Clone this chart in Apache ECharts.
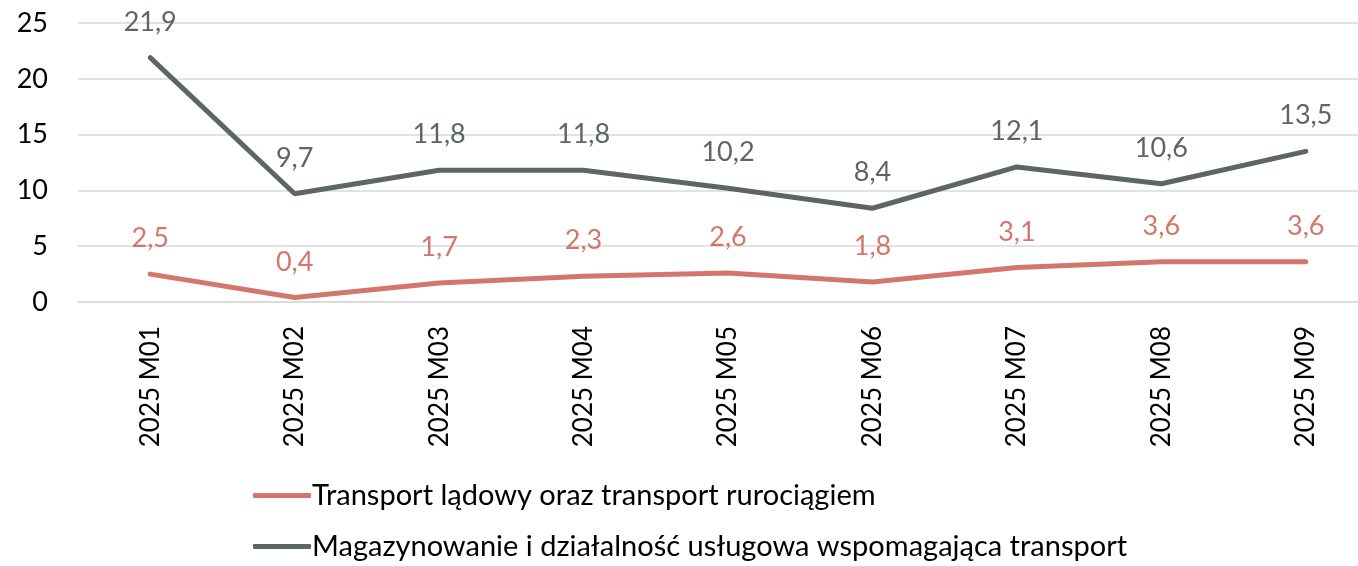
<!DOCTYPE html>
<html>
<head>
<meta charset="utf-8">
<script src="https://cdn.jsdelivr.net/npm/echarts@6/dist/echarts.min.js"></script>
<style>
  html, body { margin: 0; padding: 0; background: #fff; }
  #chart { width: 1358px; height: 566px; }
</style>
</head>
<body>
<div id="chart"></div>
<script>
// dane
var months = ["2025 M01", "2025 M02", "2025 M03", "2025 M04", "2025 M05", "2025 M06", "2025 M07", "2025 M08", "2025 M09"];
var ladowy = [2.5, 0.4, 1.7, 2.3, 2.6, 1.8, 3.1, 3.6, 3.6];
var magazyn = [21.9, 9.7, 11.8, 11.8, 10.2, 8.4, 12.1, 10.6, 13.5];
var nameLadowy = "Transport lądowy oraz transport rurociągiem";
var nameMagazyn = "Magazynowanie i działalność usługowa wspomagająca transport";

var font = "Lato, 'Open Sans', sans-serif";
var red = "#D4766B";
var gray = "#5E6566";

var chart = echarts.init(document.getElementById("chart"));
var fmt = function (p) { return String(p.value).replace(".", ","); };

chart.setOption({
  animation: false,
  textStyle: { fontFamily: font },
  grid: { left: 78, top: 23, width: 1300, height: 279, outerBoundsMode: "none", containLabel: false },
  legend: {
    orient: "vertical",
    left: 248,
    top: 476,
    itemGap: 22,
    itemWidth: 58,
    itemHeight: 5,
    textStyle: { fontSize: 29, color: "#000", fontFamily: font, padding: [0, 0, 0, -4] },
    data: [
      { name: nameLadowy, icon: "roundRect" },
      { name: nameMagazyn, icon: "roundRect" }
    ]
  },
  xAxis: {
    type: "category",
    data: months,
    boundaryGap: true,
    axisLine: { lineStyle: { color: "#d9d9d9", width: 1.5 } },
    axisTick: { show: false },
    axisLabel: { rotate: 90, fontSize: 26, color: "#000", margin: 24, fontFamily: font }
  },
  yAxis: {
    type: "value",
    min: 0,
    max: 25,
    interval: 5,
    axisLine: { show: false },
    axisTick: { show: false },
    axisLabel: { fontSize: 27, color: "#000", margin: 30, fontFamily: font },
    splitLine: { lineStyle: { color: "#d9d9d9", width: 1.5 } }
  },
  series: [
    {
      name: nameLadowy,
      type: "line",
      data: ladowy,
      symbol: "circle",
      symbolSize: 0.1,
      showSymbol: true,
      lineStyle: { color: red, width: 5, cap: "round" },
      itemStyle: { color: red },
      label: { show: true, position: "top", distance: 22, fontSize: 27, color: red, formatter: fmt, fontFamily: font }
    },
    {
      name: nameMagazyn,
      type: "line",
      data: magazyn,
      symbol: "circle",
      symbolSize: 0.1,
      showSymbol: true,
      lineStyle: { color: gray, width: 5, cap: "round" },
      itemStyle: { color: gray },
      label: { show: true, position: "top", distance: 22, fontSize: 27, color: gray, formatter: fmt, fontFamily: font }
    }
  ]
});
</script>
</body>
</html>
